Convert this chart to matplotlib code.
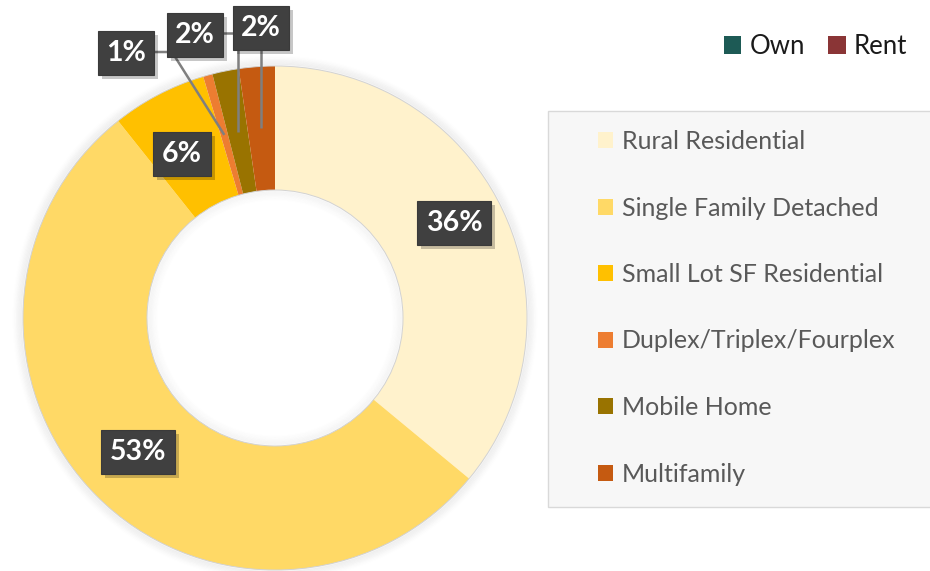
import matplotlib.pyplot as plt
from matplotlib.patches import Patch, Rectangle, Circle
import numpy as np

W, H = 930, 571

categories = ["Rural Residential", "Single Family Detached", "Small Lot SF Residential",
              "Duplex/Triplex/Fourplex", "Mobile Home", "Multifamily"]
shares = [36.0, 53.3, 6.1, 0.6, 1.7, 2.3]
colors = ["#FFF2CC", "#FFD966", "#FFC000", "#ED7D31", "#997300", "#C55A11"]

tenure = ["Own", "Rent"]
tenure_colors = ["#1D5A55", "#8A3536"]

# label box centres, in pixels (x right, y down)
label_pos = [(454, 223), (138, 452), (182, 154), (126, 53), (195, 35), (261, 28)]

plt.rcParams["font.family"] = ["Lato", "DejaVu Sans"]


def px(x, y):
    return x, H - y


fig = plt.figure(figsize=(W / 100, H / 100), dpi=100)
ax = fig.add_axes([0, 0, 1, 1])

cx, cy = px(275, 318)
r_out, ring = 252, 124

# soft shadow round the ring
for i in range(1, 9):
    ax.add_patch(Circle((cx, cy), r_out + i * 1.2, fill=False, ec="black",
                        lw=1.6, alpha=0.018 * (9 - i) / 4, zorder=0))
    ax.add_patch(Circle((cx, cy), r_out - ring - i * 1.2, fill=False, ec="black",
                        lw=1.6, alpha=0.012 * (9 - i) / 4, zorder=0))

wedges, _ = ax.pie(shares, colors=colors, startangle=90, counterclock=False,
                   radius=r_out, center=(cx, cy),
                   wedgeprops=dict(width=ring, linewidth=0))
for w in wedges:
    w.set_zorder(2)
ax.add_patch(Circle((cx, cy), r_out, fill=False, ec="#D2D2D2", lw=0.7, zorder=3))
ax.add_patch(Circle((cx, cy), r_out - ring, fill=False, ec="#D2D2D2", lw=0.7, zorder=3))

# slice anchor points for the leader lines
r_mid = r_out - ring / 2
anchors = []
for w in wedges:
    a = np.deg2rad((w.theta1 + w.theta2) / 2)
    anchors.append((cx + r_mid * np.cos(a), cy + r_mid * np.sin(a)))

line_kw = dict(color="#7F7F7F", lw=1.8, zorder=4, solid_capstyle="butt")
# duplex: from the 1% box, along and then down
x0, y0 = px(154, 52)
x1, _ = px(172, 52)
ax.plot([x0, x1, anchors[3][0]], [y0, y0, anchors[3][1]], **line_kw)
# mobile home: from the middle 2% box, across and down
x0, y0 = px(223, 33)
ax.plot([x0, anchors[4][0], anchors[4][0]], [y0, y0, anchors[4][1]], **line_kw)
# multifamily: straight down from the right 2% box
_, y0 = px(261, 28)
ax.plot([anchors[5][0], anchors[5][0]], [y0, anchors[5][1]], **line_kw)

for v, (lx, ly) in zip(shares, label_pos):
    x, y = px(lx, ly)
    s = f"{round(v):.0f}%"
    ax.text(x + 4, y - 4, s, ha="center", va="center", fontsize=20.5,
            fontweight="bold", color="#8C8C8C", alpha=0.0, zorder=5,
            bbox=dict(boxstyle="square,pad=0.3", fc="#000000", ec="none", alpha=0.22))
    ax.text(x, y, s, ha="center", va="center", fontsize=20.5, fontweight="bold",
            color="white", zorder=6,
            bbox=dict(boxstyle="square,pad=0.3", fc="#404040", ec="#3A3A3A", lw=0.8))

# legend panel
bx, by = px(548, 507)
ax.add_patch(Rectangle((bx, by), 400, 396, fc="#F7F7F7", ec="#D9D9D9", lw=1, zorder=1))

ax.set_xlim(0, W)
ax.set_ylim(0, H)
ax.set_aspect("equal")
ax.axis("off")

handles = [Patch(facecolor=c, edgecolor="none") for c in colors]
fig.legend(handles, categories, loc="upper left", bbox_to_anchor=(598 / W, 1 - 130 / H),
           frameon=False, fontsize=18, labelcolor="#595959", handlelength=0.6,
           handleheight=0.6, handletextpad=0.36, labelspacing=1.74,
           borderpad=0, borderaxespad=0)

t_handles = [Patch(facecolor=c, edgecolor="none") for c in tenure_colors]
fig.legend(t_handles, tenure, loc="upper left", bbox_to_anchor=(724 / W, 1 - 34 / H),
           frameon=False, fontsize=18.5, labelcolor="#1A1A1A", ncol=2,
           handlelength=0.68, handleheight=0.68, handletextpad=0.32,
           columnspacing=0.9, borderpad=0, borderaxespad=0)

fig.savefig("out.png", dpi=100)
